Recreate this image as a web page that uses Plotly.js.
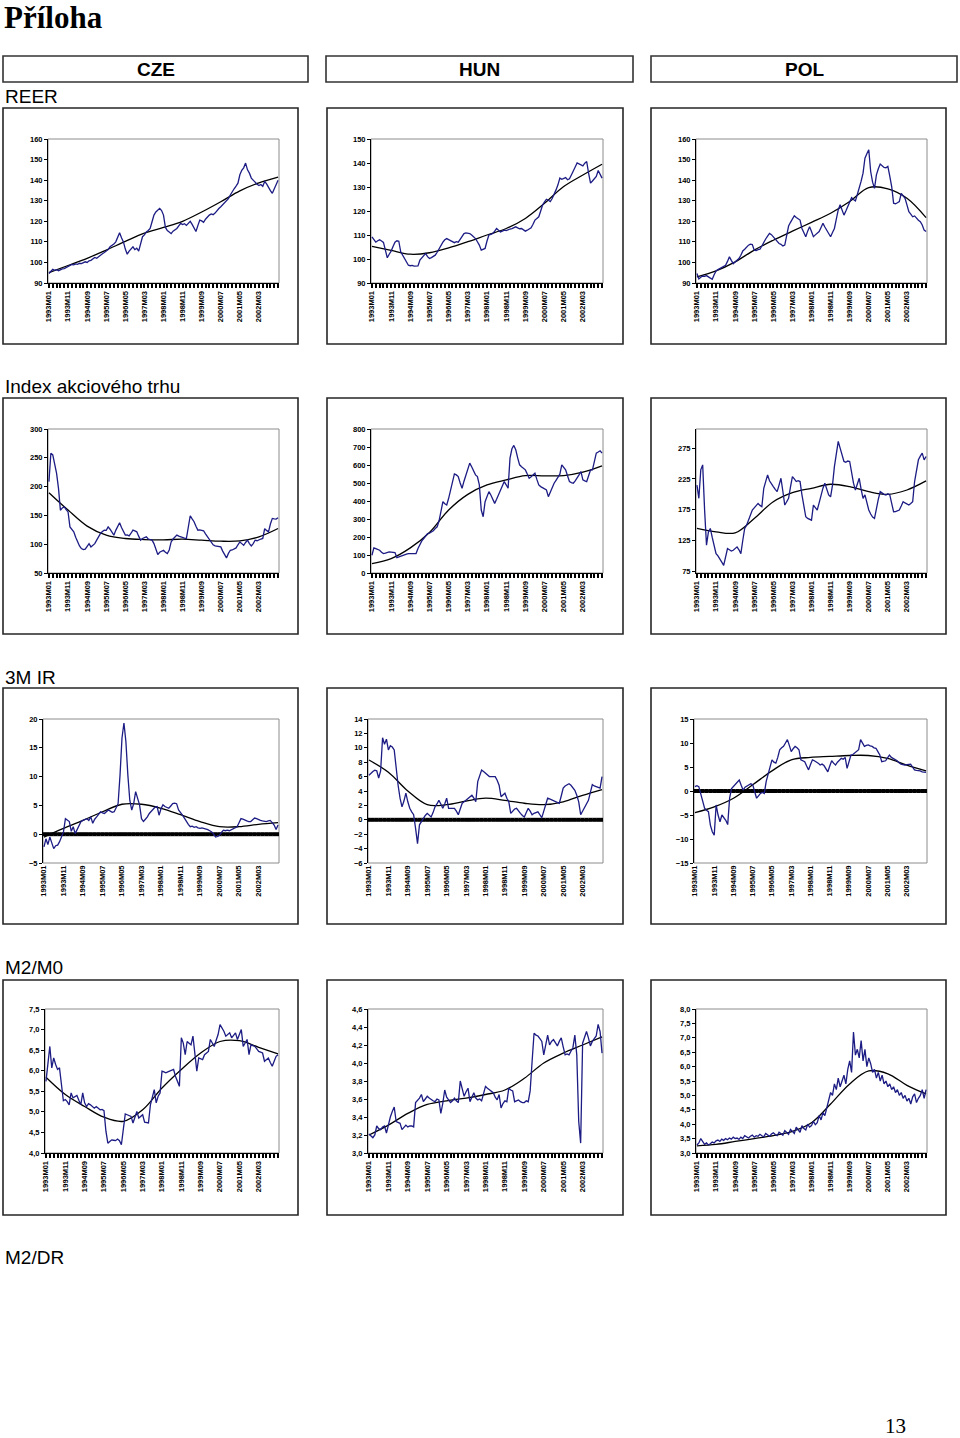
<!DOCTYPE html>
<html><head><meta charset="utf-8">
<script src="https://cdn.plot.ly/plotly-3.0.1.min.js"></script>
<style>html,body{margin:0;padding:0;background:#fff}#page{width:960px;height:1438px}</style>
</head><body><div id="page"></div>
<script>
// ---------- categories ----------
const startYear = 1993, nMonths = 121;
const months = [];
for (let i = 0; i < nMonths; i++) {
  months.push((startYear + Math.floor(i / 12)) + "M" + String(i % 12 + 1).padStart(2, "0"));
}
const tickLabels = ["1993M01","1993M11","1994M09","1995M07","1996M05","1997M03","1998M01","1998M11","1999M09","2000M07","2001M05","2002M03"];
const trendMonths = ["1993M01","1993M11","1994M09","1995M07","1996M05","1997M03","1998M01","1998M11","1999M09","2000M07","2001M05","2002M03","2003M01"];

// ---------- REER ----------
const reerCZE = [94.6,95.8,96.7,96.2,96.5,96.0,96.6,96.9,97.0,97.6,
98.2,98.4,99.0,98.8,99.3,99.1,99.6,99.4,99.8,100.3,
100.0,100.8,101.0,101.9,102.4,102.0,102.9,103.5,104.2,104.8,
105.6,106.2,107.6,108.1,108.9,110.0,111.8,114.4,112.0,110.0,
106.5,104.0,105.5,106.8,107.6,106.2,106.9,105.5,109.0,112.5,
113.4,114.8,115.5,116.5,119.8,123.0,124.5,125.6,126.3,125.2,
123.0,117.0,115.5,114.8,114.0,115.2,115.9,116.5,117.8,119.0,
118.4,118.8,118.0,119.2,120.0,118.5,116.8,115.0,117.9,120.6,
120.2,119.5,121.0,122.2,123.0,123.6,123.2,124.0,125.4,126.2,
127.1,128.0,129.2,130.1,131.0,132.8,134.5,135.8,137.1,138.5,
142.6,144.8,146.0,148.3,145.0,143.4,141.0,139.8,138.6,138.0,
137.4,137.9,137.0,139.3,138.2,136.4,134.9,133.6,135.5,137.7,140.0];
const reerCZEtrend = [95,98.5,102,106,110.2,114.2,117,120,124.5,129.5,134.8,138.7,141.5];

const reerHUN = [109.2,108.0,107.0,107.6,108.0,107.5,106.9,103.7,100.5,102.0,
103.3,105.2,107.0,107.6,107.4,103.0,101.5,100.1,98.8,97.4,
97.2,97.3,97.0,97.2,97.1,99.5,100.3,101.4,102.3,101.0,
100.2,100.6,101.0,101.6,102.8,104.4,105.8,107.0,108.0,108.5,
108.1,107.6,107.0,106.8,107.2,107.0,108.2,109.5,110.6,110.9,
110.8,110.6,110.0,109.2,108.5,107.2,105.8,103.7,103.9,104.4,
107.5,110.0,110.3,110.6,111.6,112.7,112.0,111.3,111.6,112.0,
111.8,112.3,112.5,112.7,113.0,113.4,113.0,112.6,112.7,112.1,
111.6,112.0,112.5,113.0,114.5,116.2,116.9,117.6,120.0,122.5,
123.8,124.9,124.5,123.9,125.2,126.7,128.8,130.9,133.7,133.2,
133.7,133.9,133.0,133.4,135.0,136.4,138.3,140.0,139.6,139.2,
138.8,139.9,140.6,135.7,131.6,132.5,133.6,134.4,136.9,135.0,133.7];
const reerHUNtrend = [105.3,103.6,102.0,102.6,104.6,107.2,110,112.7,116.9,123.2,130.2,135,139.5];

const reerPOL = [94.6,92.0,92.8,93.4,93.2,93.6,93.0,92.5,91.8,94.0,
95.9,96.5,97.0,97.4,98.0,98.6,100.5,102.7,101.0,99.4,
100.2,101.0,101.9,103.5,105.6,106.4,107.5,108.4,108.9,108.7,
106.0,105.8,106.2,106.4,108.0,110.0,111.4,112.8,114.1,113.5,
112.5,111.0,110.0,109.2,108.8,108.0,108.4,113.0,117.7,119.5,
121.2,122.7,121.8,121.0,120.6,116.5,114.0,112.5,115.2,117.4,
115.0,112.5,113.4,114.2,115.0,117.0,119.0,117.2,115.7,114.0,
112.5,114.5,116.5,121.0,125.5,128.0,125.4,123.0,125.0,127.5,
129.6,131.5,130.6,129.9,133.0,136.0,139.5,143.4,150.7,152.8,
154.8,144.2,139.0,136.0,142.6,145.5,147.8,147.0,146.2,146.0,
146.7,142.0,136.9,128.8,128.5,129.0,129.6,133.6,132.5,131.2,
128.0,124.7,123.5,122.2,122.6,121.4,120.5,119.8,118.2,115.7,115.0];
const reerPOLtrend = [93,95.9,100.3,106,110.8,115.2,119.5,123.9,129.6,136.4,135.8,131.2,121.8];

// ---------- Index akciového trhu ----------
const idxCZE = [208.7,258.0,255.0,240.7,223.0,197.0,159.0,163.0,165.0,160.0,
156.0,130.0,126.0,121.5,112.0,104.0,97.0,92.4,90.5,91.3,
96.0,101.0,95.3,97.5,101.0,107.0,113.0,118.6,122.0,124.4,
124.0,130.0,126.0,120.0,115.7,124.0,131.0,137.2,129.0,121.0,
115.7,116.0,114.5,119.0,124.4,123.0,121.5,114.0,107.0,110.0,
111.5,112.8,109.0,108.5,107.0,101.0,90.0,82.0,86.0,88.0,
89.5,86.0,83.7,90.0,104.0,109.0,112.0,115.7,114.0,112.8,
111.0,110.5,110.0,133.0,149.4,144.0,139.0,131.0,124.4,125.0,
124.0,123.3,118.0,112.8,108.0,104.0,99.0,97.0,96.0,95.5,
95.3,88.0,81.0,76.2,84.0,89.5,90.0,92.0,93.6,99.0,
104.0,101.0,98.0,103.0,107.0,101.0,97.0,101.0,107.0,106.0,
108.0,109.0,110.0,127.0,124.0,121.5,135.0,144.8,144.0,143.6,146.0];
const idxCZEtrend = [189.5,159.3,131.4,115.7,109.9,108.1,107.6,108.7,107,105.2,105.8,112.8,127.3];

const idxHUN = [98.6,139.5,135.0,130.0,126.5,115.0,108.0,110.0,114.0,117.0,
116.0,115.0,113.5,85.6,90.0,95.0,98.6,102.0,105.0,108.0,
107.0,108.5,107.5,108.0,135.8,160.0,178.0,191.6,205.0,219.5,
222.0,228.8,235.0,247.0,256.7,290.0,349.8,396.0,385.0,377.7,
415.0,461.4,510.0,550.7,545.0,535.8,500.0,470.7,510.0,545.0,
580.0,610.2,590.0,563.7,545.0,535.8,489.3,349.8,312.6,396.3,
430.0,452.0,433.5,410.0,386.9,410.0,435.0,452.0,480.0,508.0,
490.0,470.7,638.0,690.0,708.8,684.7,640.0,601.0,590.0,580.0,
573.0,550.0,526.5,535.0,545.0,554.4,520.0,489.3,480.0,475.0,
468.0,461.4,424.2,450.0,475.0,498.6,515.0,532.0,548.8,601.0,
590.0,573.0,540.0,508.0,502.0,498.6,512.0,526.5,545.0,563.7,
517.2,512.0,508.0,540.0,573.0,573.0,620.0,666.0,672.0,679.0,666.0];
const idxHUNtrend = [52,80,139.5,225,350,437,489,517,541,539.5,541,560,595];

const idxPOL = [215.0,193.5,239.7,247.8,175.0,117.4,139.0,144.6,130.0,117.4,
103.8,100.0,95.7,90.0,84.8,98.4,112.0,110.0,108.0,109.2,
112.0,114.7,110.0,103.8,125.0,144.6,150.0,158.0,165.0,174.5,
178.0,182.0,185.3,182.0,180.0,209.8,222.0,231.5,222.0,216.0,
212.5,208.0,204.3,215.0,226.0,205.0,182.6,188.0,193.5,212.0,
228.8,225.0,220.7,222.0,220.7,199.0,180.0,163.6,160.9,159.0,
158.0,182.6,178.0,174.5,186.0,199.0,210.0,218.0,208.0,199.0,
196.0,215.0,245.0,269.6,285.9,275.0,262.0,253.3,252.0,254.0,
253.3,231.5,218.0,207.0,215.0,226.0,208.0,193.5,199.0,186.0,
174.5,168.0,163.0,160.9,180.0,192.0,204.3,202.0,200.0,199.0,
201.0,199.0,185.0,171.7,172.0,173.0,174.5,181.0,188.0,186.0,
184.0,182.6,185.0,188.0,220.7,240.0,256.0,262.0,266.8,256.0,261.4];
const idxPOLtrend = [144.6,139.1,137.5,160.9,188,202.7,209.8,216.3,212.5,204.3,200,207,221.7];

// ---------- 3M IR ----------
const irCZE = [-2.2,-0.8,-1.8,-0.5,-1.5,-2.5,-2.0,-1.9,-1.3,-0.5,
0.4,2.7,2.5,2.2,0.5,1.3,0.1,0.9,1.6,2.2,
2.4,2.5,2.7,2.4,3.0,1.9,2.6,3.0,3.4,3.9,
3.7,3.6,3.9,4.2,4.0,3.8,3.9,4.6,5.3,10.3,
16.7,19.3,16.1,10.3,5.9,4.2,5.3,7.4,6.0,5.1,
2.7,2.2,2.6,3.0,3.6,4.0,4.5,4.7,4.8,3.3,
4.4,5.1,4.8,4.6,4.5,4.9,5.3,5.4,5.3,4.2,
3.8,3.3,2.8,2.2,1.7,1.3,1.4,1.2,1.3,1.1,
1.0,1.1,1.0,1.0,0.8,0.6,0.4,0.0,-0.5,-0.4,
-0.2,0.3,0.7,0.6,0.7,0.6,0.8,1.0,1.1,1.3,
2.0,2.7,2.6,2.4,2.3,2.2,2.2,2.5,2.8,2.7,
2.5,2.4,2.3,2.2,2.2,2.3,2.4,2.0,1.6,0.8,1.6];
const irCZEtrend = [-0.5,1.0,2.4,3.9,5.2,5.2,4.5,3.4,2.2,1.3,1.3,1.7,2.0];

const irHUN = [6.2,6.5,6.7,6.9,6.8,5.8,6.8,11.4,10.5,11.2,
9.7,10.3,10.1,9.7,6.9,4.8,3.0,1.8,2.6,3.7,
2.5,1.6,1.1,0.7,-1.2,-3.3,-0.7,-0.2,0.2,0.6,
0.9,0.7,0.4,1.0,1.8,2.2,2.7,2.2,1.6,2.2,
3.0,1.6,1.6,1.5,1.6,1.2,0.7,1.5,2.3,2.5,
2.7,3.0,3.2,3.4,3.0,2.5,5.3,6.2,6.9,6.7,
6.5,6.2,6.0,6.0,6.0,6.0,5.5,4.8,3.2,3.5,
3.7,3.0,2.5,0.9,1.2,1.5,1.6,1.2,0.9,0.6,
0.4,1.0,1.6,1.2,0.7,0.9,1.0,1.1,0.7,0.3,
1.2,2.0,3.0,2.9,2.8,2.7,2.5,2.4,2.3,3.3,
4.4,4.7,4.9,5.0,4.8,4.5,4.1,3.4,2.5,0.7,
1.2,1.6,2.2,2.7,3.8,4.9,4.7,4.6,4.5,4.4,6.0];
const irHUNtrend = [8.3,6.6,4.0,2.1,2.1,2.6,3.0,2.7,2.3,2.1,2.5,3.4,4.2];

const irPOL = [0.9,1.1,0.9,-0.8,-2.0,-3.6,-4.0,-4.3,-7.1,-8.5,
-9.2,-2.9,-5.0,-6.4,-5.0,-5.5,-6.1,-7.0,-1.5,0.5,
1.0,1.3,2.0,2.3,1.2,0.2,0.8,1.0,1.3,1.5,
1.3,0.0,-1.5,-1.0,-0.5,-0.3,-0.5,2.0,3.5,4.7,
6.5,6.0,5.8,7.0,8.6,9.0,9.3,10.0,10.7,9.5,
8.2,8.8,9.3,9.0,8.6,6.5,6.3,6.1,5.2,4.4,
5.5,6.5,6.3,6.1,5.8,5.4,5.6,5.3,4.6,4.0,
5.2,6.3,5.8,5.4,6.0,6.5,6.8,6.6,7.0,4.7,
6.2,7.5,7.6,7.9,8.2,8.6,10.7,10.0,9.3,9.5,
9.6,9.4,9.3,9.0,8.9,8.2,7.5,6.1,6.2,6.3,
6.9,7.5,7.0,6.8,6.5,6.3,5.9,5.6,5.5,5.4,
5.5,5.6,5.6,5.0,4.4,4.3,4.3,4.2,4.0,3.9,3.9];
const irPOLtrend = [-4.5,-3.3,-1.5,1.3,4.2,6.5,7.0,7.2,7.4,7.4,6.8,5.4,4.2];

// ---------- M2/M0 ----------
const m2CZE = [5.74,6.15,6.59,6.07,6.31,6.15,6.03,6.07,5.62,5.27,
5.30,5.25,5.17,5.46,5.34,5.38,5.40,5.28,5.17,5.46,
5.22,5.13,5.20,5.17,5.12,5.09,5.13,5.10,5.05,5.06,
5.03,4.53,4.24,4.28,4.32,4.31,4.30,4.34,4.30,4.20,
4.61,4.95,4.93,4.91,4.89,4.73,4.85,5.01,4.85,4.90,
4.93,4.75,4.74,4.73,5.17,5.35,5.54,5.22,5.38,5.46,
5.99,5.97,5.95,5.97,5.99,6.01,6.03,5.86,5.74,5.62,
6.80,6.67,6.39,6.71,6.67,6.63,6.84,6.40,5.99,6.31,
6.29,6.27,6.39,6.43,6.47,6.76,6.68,6.59,6.74,6.88,
7.12,7.04,6.96,6.84,6.88,6.92,6.80,6.86,6.92,6.76,
6.90,7.00,6.59,6.68,6.76,6.39,6.63,6.61,6.59,6.53,
6.47,6.45,6.43,6.23,6.27,6.31,6.20,6.11,6.23,6.35,6.39];
const m2CZEtrend = [5.84,5.42,5.13,4.87,4.77,5.05,5.58,6.03,6.43,6.71,6.73,6.57,6.41];

const m2HUN = [3.21,3.19,3.17,3.20,3.30,3.27,3.26,3.29,3.30,3.22,
3.33,3.40,3.46,3.51,3.35,3.34,3.33,3.26,3.29,3.31,
3.29,3.30,3.30,3.29,3.56,3.58,3.61,3.65,3.57,3.60,
3.63,3.61,3.59,3.58,3.57,3.60,3.59,3.44,3.55,3.70,
3.62,3.59,3.56,3.58,3.61,3.58,3.56,3.80,3.70,3.63,
3.68,3.72,3.57,3.62,3.67,3.61,3.59,3.60,3.58,3.66,
3.74,3.72,3.70,3.68,3.67,3.62,3.59,3.65,3.50,3.55,
3.58,3.57,3.72,3.70,3.69,3.57,3.58,3.59,3.57,3.56,
3.56,3.58,3.57,3.69,4.02,4.33,4.31,4.30,4.27,4.24,
4.09,4.22,4.31,4.20,4.24,4.26,4.22,4.19,4.24,4.28,
4.18,4.09,4.10,4.09,4.13,4.17,4.31,4.09,3.35,3.11,
4.22,4.28,4.35,4.28,4.19,4.24,4.27,4.30,4.43,4.35,4.11];
const m2HUNtrend = [3.2,3.31,3.44,3.54,3.58,3.61,3.65,3.70,3.83,4.0,4.11,4.20,4.29];

const m2POL = [3.28,3.35,3.50,3.40,3.30,3.35,3.28,3.32,3.38,3.35,
3.42,3.45,3.40,3.48,3.44,3.50,3.46,3.52,3.48,3.55,
3.50,3.52,3.47,3.55,3.50,3.60,3.55,3.52,3.58,3.62,
3.55,3.60,3.58,3.65,3.60,3.56,3.68,3.62,3.58,3.66,
3.70,3.64,3.60,3.72,3.68,3.62,3.78,3.70,3.65,3.82,
3.75,3.68,3.90,3.80,3.72,3.95,3.85,3.80,4.00,3.90,
3.95,4.10,3.98,4.05,4.30,4.15,4.40,4.30,4.60,4.90,
5.10,5.00,5.40,5.20,5.60,5.30,5.50,5.70,5.40,5.90,
6.20,5.80,7.20,6.40,6.60,6.30,6.90,6.20,6.60,6.00,
6.30,6.10,5.80,5.90,5.60,5.80,5.50,5.70,5.40,5.50,
5.30,5.40,5.20,5.30,5.10,5.20,5.00,5.10,4.90,5.00,
4.80,4.90,4.70,4.95,5.05,4.75,4.90,5.00,5.20,4.90,5.20];
const m2POLtrend = [3.25,3.3,3.4,3.5,3.6,3.75,4.05,4.7,5.4,5.85,5.75,5.35,5.05];

// ---------- layout helpers ----------
const W = 960, H = 1438;
const px = x => x / W, py = y => 1 - y / H;
const colRight = [279, 603, 927];
const colLeft = [[48,371,696],[48,371,696],[43,368,694],[45,368,696]];
const rowTop = [139, 429, 719, 1009], rowBottom = [283, 573, 863, 1153];
const boxX = [[3,298],[327,623],[651,946]];
const boxY = [[108,344],[398,634],[688,924],[980,1215]];

const charts = [
  {s: reerCZE, t: reerCZEtrend, r:0, c:0, range:[90,160], dtick:10},
  {s: reerHUN, t: reerHUNtrend, r:0, c:1, range:[90,150], dtick:10},
  {s: reerPOL, t: reerPOLtrend, r:0, c:2, range:[90,160], dtick:10},
  {s: idxCZE, t: idxCZEtrend, r:1, c:0, range:[50,300], dtick:50},
  {s: idxHUN, t: idxHUNtrend, r:1, c:1, range:[0,800], dtick:100},
  {s: idxPOL, t: idxPOLtrend, r:1, c:2, range:[72.3,306], tickvals:[75,125,175,225,275]},
  {s: irCZE, t: irCZEtrend, r:2, c:0, range:[-5,20], dtick:5, zero:true},
  {s: irHUN, t: irHUNtrend, r:2, c:1, range:[-6,14], dtick:2, zero:true},
  {s: irPOL, t: irPOLtrend, r:2, c:2, range:[-15,15], dtick:5, zero:true},
  {s: m2CZE, t: m2CZEtrend, r:3, c:0, range:[4,7.5], dtick:0.5, fmt:'.1f'},
  {s: m2HUN, t: m2HUNtrend, r:3, c:1, range:[3,4.6], dtick:0.2, fmt:'.1f'},
  {s: m2POL, t: m2POLtrend, r:3, c:2, range:[3,8], dtick:0.5, fmt:'.1f'}
];

const traces = [], shapes = [], annotations = [];
const layout = {
  width: W, height: H, margin: {l:0, r:0, t:0, b:0},
  paper_bgcolor: '#fff', plot_bgcolor: '#fff', showlegend: false,
  separators: ', ', hovermode: false, font: {family: 'Arial, Liberation Sans, sans-serif', color: '#000'}
};
const tickFont = {family: 'Arial, Liberation Sans, sans-serif', size: 7.5, color: '#000', weight: 'bold'};
const monthIdx = months.map((m, i) => i);
const tickIdx = tickLabels.map(l => months.indexOf(l));
const trendIdx = trendMonths.map(l => months.indexOf(l));
const markIdx = monthIdx.filter(i => i % 2 === 0);

charts.forEach((ch, k) => {
  const n = k + 1, xa = 'x' + n, ya = 'y' + n;
  const L = colLeft[ch.r][ch.c], R = colRight[ch.c], T = rowTop[ch.r], B = rowBottom[ch.r];
  layout['xaxis' + n] = {
    domain: [px(L), px(R)], anchor: ya, range: [-0.5, nMonths - 0.5],
    tickmode: 'array', tickvals: tickIdx, ticktext: tickLabels, tickangle: -90,
    tickfont: tickFont, showgrid: false, zeroline: false, fixedrange: true,
    showline: !ch.zero, linecolor: '#000', linewidth: 1,
    ticks: ch.zero ? '' : 'outside', ticklen: 4, tickwidth: 2, tickcolor: '#000',
    minor: ch.zero ? {ticks: ''} : {tickmode: 'linear', tick0: 0, dtick: 2, ticks: 'outside', ticklen: 4, tickwidth: 2, tickcolor: '#000', showgrid: false}
  };
  const yax = {
    domain: [py(B), py(T)], anchor: xa, range: ch.range,
    tickfont: tickFont, showgrid: false, fixedrange: true,
    showline: true, linecolor: '#000', linewidth: 1,
    ticks: 'outside', ticklen: 3, tickwidth: 1, tickcolor: '#000',
    zeroline: !!ch.zero, zerolinecolor: '#000', zerolinewidth: 1.5
  };
  if (ch.tickvals) { yax.tickmode = 'array'; yax.tickvals = ch.tickvals; }
  else { yax.tickmode = 'linear'; yax.tick0 = ch.range[0]; yax.dtick = ch.dtick; }
  if (ch.fmt) yax.tickformat = ch.fmt;
  layout['yaxis' + n] = yax;

  shapes.push({type: 'rect', xref: xa + ' domain', yref: ya + ' domain', x0: 0, x1: 1, y0: 0, y1: 1,
    line: {color: '#8c8c8c', width: 1}, layer: 'below'});
  shapes.push({type: 'rect', xref: 'paper', yref: 'paper',
    x0: px(boxX[ch.c][0]), x1: px(boxX[ch.c][1]), y0: py(boxY[ch.r][1]), y1: py(boxY[ch.r][0]),
    line: {color: '#262626', width: 1.6}});

  if (ch.zero) {
    traces.push({type: 'scatter', mode: 'markers', x: markIdx, y: markIdx.map(() => 0), xaxis: xa, yaxis: ya,
      marker: {symbol: 'square', size: 4, color: '#000', line: {width: 0}}, hoverinfo: 'skip'});
  }
  traces.push({type: 'scatter', mode: 'lines', x: trendIdx, y: ch.t, xaxis: xa, yaxis: ya,
    line: {color: '#000', width: 1.3, shape: 'spline', smoothing: 1}, hoverinfo: 'skip'});
  traces.push({type: 'scatter', mode: 'lines', x: monthIdx, y: ch.s, xaxis: xa, yaxis: ya,
    line: {color: '#1c1c84', width: 1.3}, hoverinfo: 'skip'});
});

const heads = ["CZE", "HUN", "POL"];
const headX = [[3,308],[326,633],[651,957]];
heads.forEach((h, i) => {
  shapes.push({type: 'rect', xref: 'paper', yref: 'paper', x0: px(headX[i][0]), x1: px(headX[i][1]),
    y0: py(82), y1: py(56), line: {color: '#333', width: 1.6}});
  annotations.push({text: '<b>' + h + '</b>', xref: 'paper', yref: 'paper', x: px((headX[i][0] + headX[i][1]) / 2), y: py(69.5),
    xanchor: 'center', yanchor: 'middle', showarrow: false, font: {family: 'Arial, Liberation Sans', size: 19, color: '#000'}});
});
annotations.push({text: '<b>Příloha</b>', xref: 'paper', yref: 'paper', x: px(3), y: py(17), xanchor: 'left', yanchor: 'middle',
  showarrow: false, borderpad: 0, font: {family: 'Liberation Serif, Times New Roman, serif', size: 31, color: '#000'}});
const rowLabels = ["REER", "Index akciového trhu", "3M IR", "M2/M0", "M2/DR"];
const rowLabelY = [96, 387, 677, 967, 1257];
rowLabels.forEach((t, i) => annotations.push({text: t, xref: 'paper', yref: 'paper', x: px(3), y: py(rowLabelY[i]),
  xanchor: 'left', yanchor: 'middle', showarrow: false, font: {family: 'Arial, Liberation Sans', size: 19, color: '#000'}}));
annotations.push({text: '13', xref: 'paper', yref: 'paper', x: px(895), y: py(1426), xanchor: 'center', yanchor: 'middle',
  showarrow: false, borderpad: 0, font: {family: 'Liberation Serif, Times New Roman, serif', size: 21, color: '#000'}});

layout.shapes = shapes;
layout.annotations = annotations;
Plotly.newPlot('page', traces, layout, {staticPlot: true, displayModeBar: false});
</script></body></html>
